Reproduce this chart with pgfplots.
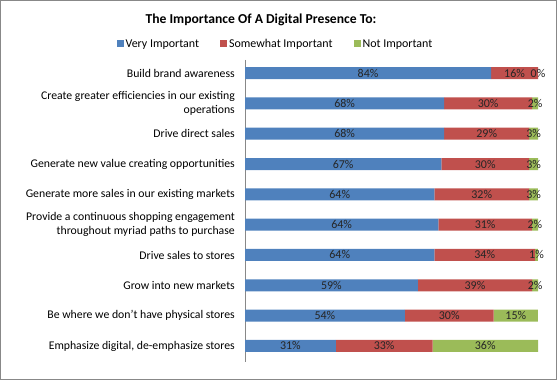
\documentclass[border=0pt]{standalone}
\usepackage{pgfplots}
\pgfplotsset{compat=1.18}
\usepackage{pgfplotstable}
\usepackage{fontspec}
\setmainfont{Carlito}
\definecolor{c1}{HTML}{4F81BD}
\definecolor{c2}{HTML}{C0504D}
\definecolor{c3}{HTML}{9BBB59}
\definecolor{framegray}{HTML}{888888}
\pgfplotstableread{
y v s n
0 84 16 0
1 68 30 2
2 68 29 3
3 67 30 3
4 64 32 3
5 64 31 2
6 64 34 1
7 59 39 2
8 54 30 15
9 31 33 36
}\data
\begin{document}
\begin{tikzpicture}
\useasboundingbox (0,0) rectangle (557bp,380bp);
\draw[color=framegray, line width=0.8bp] (0.5bp,0.5bp) rectangle (556.5bp,379.5bp);
\node[font=\fontsize{13.7}{16}\selectfont\bfseries] at (261bp,360bp) {The Importance Of A Digital Presence To:};
\begin{axis}[
  at={(245bp,18bp)}, anchor=south west, scale only axis,
  width=293bp, height=302bp,
  xbar stacked, bar width=12bp,
  xmin=0, xmax=100, ymin=-0.43, ymax=9.53, y dir=reverse,
  axis x line=none, axis y line*=left,
  y axis line style={-, draw=framegray, line width=0.8bp},
  xtick=\empty,
  ytick={0,...,9},
  yticklabels={Build brand awareness,
    {Create greater efficiencies in our existing\\operations},
    Drive direct sales,
    Generate new value creating opportunities,
    Generate more sales in our existing markets,
    {Provide a continuous shopping engagement\\throughout myriad paths to purchase},
    Drive sales to stores,
    Grow into new markets,
    Be where we don’t have physical stores,
    {Emphasize digital, de-emphasize stores}},
  major tick length=0,
  yticklabel style={align=right, font=\fontsize{11.8}{14.5}\selectfont, inner sep=0pt, xshift=-10bp},
  legend columns=3,
  legend style={at={(0.104,1.053)}, anchor=center, draw=none, fill=none,
    font=\fontsize{12}{14}\selectfont,
    /tikz/every even column/.append style={column sep=19bp}},
  legend image code/.code={\path[#1] (0bp,-3.5bp) rectangle (7bp,3.5bp);},
]
\addplot[fill=c1, draw=none] table[y=y, x expr={\thisrow{v}*100/(\thisrow{v}+\thisrow{s}+\thisrow{n})}]{\data};
\addplot[fill=c2, draw=none] table[y=y, x expr={\thisrow{s}*100/(\thisrow{v}+\thisrow{s}+\thisrow{n})}]{\data};
\addplot[fill=c3, draw=none] table[y=y, x expr={\thisrow{n}*100/(\thisrow{v}+\thisrow{s}+\thisrow{n})}]{\data};
\legend{Very Important, Somewhat Important, Not Important}
\end{axis}
\begin{axis}[
  at={(245bp,18bp)}, anchor=south west, scale only axis,
  width=293bp, height=302bp,
  xmin=0, xmax=100, ymin=-0.43, ymax=9.53, y dir=reverse,
  hide axis, clip=false,
  /pgf/number format/assume math mode=true,
  nodes near coords={\pgfmathprintnumber{\pgfplotspointmeta}\%},
  every node near coord/.append style={anchor=center, font=\fontsize{12}{14}\selectfont, text=black!85, inner sep=0pt},
]
\addplot[draw=none, mark=none, only marks, point meta=\thisrow{v}] table[y=y, x expr={(\thisrow{v}/2)*100/(\thisrow{v}+\thisrow{s}+\thisrow{n})}]{\data};
\addplot[draw=none, mark=none, only marks, point meta=\thisrow{s}] table[y=y, x expr={(\thisrow{v}+\thisrow{s}/2)*100/(\thisrow{v}+\thisrow{s}+\thisrow{n})}]{\data};
\addplot[draw=none, mark=none, only marks, point meta=\thisrow{n}] table[y=y, x expr={(\thisrow{v}+\thisrow{s}+\thisrow{n}/2)*100/(\thisrow{v}+\thisrow{s}+\thisrow{n})}]{\data};
\end{axis}
\end{tikzpicture}
\end{document}
